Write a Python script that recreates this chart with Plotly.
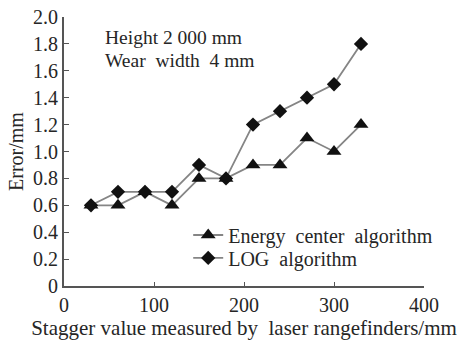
import plotly.graph_objects as go

x_vals = [30, 60, 90, 120, 150, 180, 210, 240, 270, 300, 330]
energy_center = [0.6, 0.6, 0.7, 0.6, 0.8, 0.8, 0.9, 0.9, 1.1, 1.0, 1.2]
log_alg = [0.6, 0.7, 0.7, 0.7, 0.9, 0.8, 1.2, 1.3, 1.4, 1.5, 1.8]

y_tickvals = [0, 0.2, 0.4, 0.6, 0.8, 1.0, 1.2, 1.4, 1.6, 1.8, 2.0]
y_ticktext = ["0", "0.2", "0.4", "0.6", "0.8", "1.0", "1.2", "1.4", "1.6", "1.8", "2.0"]
x_tickvals = [0, 100, 200, 300, 400]
x_ticktext = ["0", "100", "200", "300", "400"]

FONT = "Liberation Serif, Times New Roman, serif"
TXT = "#262626"
LINE = "#858585"
AX = "#555555"

fig = go.Figure()
fig.add_trace(go.Scatter(
    x=x_vals, y=energy_center, mode="lines+markers",
    name="Energy  center  algorithm", legend="legend",
    line=dict(color=LINE, width=1.8),
    marker=dict(symbol="triangle-up", size=13, color="#111111"),
))
fig.add_trace(go.Scatter(
    x=x_vals, y=log_alg, mode="lines+markers",
    name="LOG  algorithm", legend="legend2",
    line=dict(color=LINE, width=1.8),
    marker=dict(symbol="diamond", size=11, color="#111111"),
))

leg_common = dict(xanchor="left", yanchor="top", bgcolor="rgba(0,0,0,0)",
                  font=dict(size=20, family=FONT, color=TXT), itemwidth=30)

fig.update_layout(
    width=466, height=340,
    margin=dict(l=64, r=42, t=17, b=54),
    paper_bgcolor="white", plot_bgcolor="white",
    font=dict(family=FONT, color=TXT, size=19),
    showlegend=True,
    legend=dict(x=0.345, y=0.262, **leg_common),
    legend2=dict(x=0.345, y=0.177, **leg_common),
    xaxis=dict(
        range=[0, 400], tickvals=x_tickvals, ticktext=x_ticktext,
        showgrid=False, zeroline=False, showline=True, linecolor=AX, linewidth=2,
        ticks="inside", ticklen=4, tickcolor=AX,
        tickfont=dict(size=20, family=FONT, color=TXT),
        automargin=False,
        title=dict(text="Stagger value measured by  laser rangefinders/mm",
                   font=dict(size=21, family=FONT, color=TXT), standoff=4),
    ),
    yaxis=dict(
        range=[0, 2.0], tickvals=y_tickvals, ticktext=y_ticktext,
        showgrid=False, zeroline=False, showline=True, linecolor=AX, linewidth=2,
        ticks="inside", ticklen=5, tickcolor=AX,
        tickfont=dict(size=20, family=FONT, color=TXT),
        automargin=False,
        title=dict(text="Error/mm", font=dict(size=20, family=FONT, color=TXT), standoff=4),
    ),
    annotations=[
        dict(text="Height 2 000 mm", x=0.108, y=0.922, xref="paper", yref="paper",
             xanchor="left", yanchor="middle", showarrow=False,
             font=dict(size=19.5, family=FONT, color=TXT)),
        dict(text="Wear  width  4 mm", x=0.108, y=0.84, xref="paper", yref="paper",
             xanchor="left", yanchor="middle", showarrow=False,
             font=dict(size=19.5, family=FONT, color=TXT)),
    ],
)

fig.write_html("out.html", config={"displayModeBar": False},
               post_script="document.body.style.margin='0';")
